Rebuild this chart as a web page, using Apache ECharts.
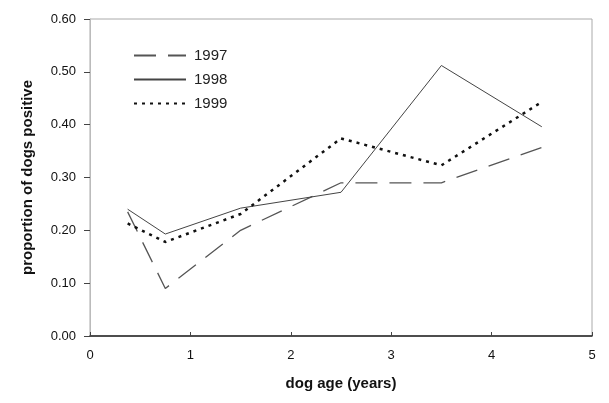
<!DOCTYPE html>
<html><head><meta charset="utf-8">
<script src="https://cdn.jsdelivr.net/npm/echarts@6/dist/echarts.min.js"></script>
<style>html,body{margin:0;padding:0;background:#fff}#c{width:609px;height:403px}</style>
</head><body><div id="c"></div>
<script>
var ages = [0.375, 0.75, 1.5, 2.5, 3.5, 4.5];
var s1997 = [0.235, 0.09, 0.20, 0.29, 0.29, 0.357];
var s1998 = [0.24, 0.193, 0.242, 0.272, 0.512, 0.396];
var s1999 = [0.213, 0.178, 0.231, 0.374, 0.323, 0.443];
var names = ['1997', '1998', '1999'];
var yTicks = ['0.00','0.10','0.20','0.30','0.40','0.50','0.60'];

function pairs(v){ return ages.map(function(a,i){ return [a, v[i]]; }); }
var font = 'Liberation Sans, Arial, sans-serif';
var chart = echarts.init(document.getElementById('c'), null, {renderer:'canvas'});
chart.setOption({
  animation:false,
  backgroundColor:'#fff',
  grid:{left:90, right:17, top:19, bottom:67, show:true, borderColor:'#aaa', borderWidth:1},
  legend:{
    orient:'vertical', left:128, top:43, itemWidth:52, itemHeight:10, itemGap:9,
    itemStyle:{opacity:0},
    textStyle:{fontFamily:font, fontSize:15, color:'#222', padding:[0,0,0,3]},
    data:names
  },
  xAxis:{
    type:'value', min:0, max:5, interval:1,
    name:'dog age (years)', nameLocation:'middle', nameGap:40,
    nameTextStyle:{fontFamily:font, fontSize:15, fontWeight:'bold', color:'#111'},
    axisLine:{show:true, onZero:false, lineStyle:{color:'#222', width:1.5}},
    axisTick:{show:true, inside:true, length:4, lineStyle:{color:'#444'}},
    axisLabel:{fontFamily:font, fontSize:13, color:'#111', margin:13},
    splitLine:{show:false}
  },
  yAxis:{
    type:'value', min:0, max:0.6, interval:0.1,
    name:'proportion of dogs positive', nameLocation:'middle', nameGap:55, nameRotate:90,
    nameTextStyle:{fontFamily:font, fontSize:15, fontWeight:'bold', color:'#111'},
    axisLine:{show:true, lineStyle:{color:'#bbb'}},
    axisTick:{show:true, length:6, lineStyle:{color:'#444'}},
    axisLabel:{fontFamily:font, fontSize:13, color:'#111', margin:14,
      formatter:function(v){ return yTicks[Math.round(v*10)]; }},
    splitLine:{show:false}
  },
  series:[
    {name:names[0], type:'line', data:pairs(s1997), symbol:'none',
     lineStyle:{color:'#555', width:1.3, type:[22,12]}, itemStyle:{color:'#555'}},
    {name:names[1], type:'line', data:pairs(s1998), symbol:'none',
     lineStyle:{color:'#444', width:1}, itemStyle:{color:'#444'}},
    {name:names[2], type:'line', data:pairs(s1999), symbol:'none',
     lineStyle:{color:'#111', width:2.5, type:[3,5]}, itemStyle:{color:'#111'}}
  ]
});
</script></body></html>
